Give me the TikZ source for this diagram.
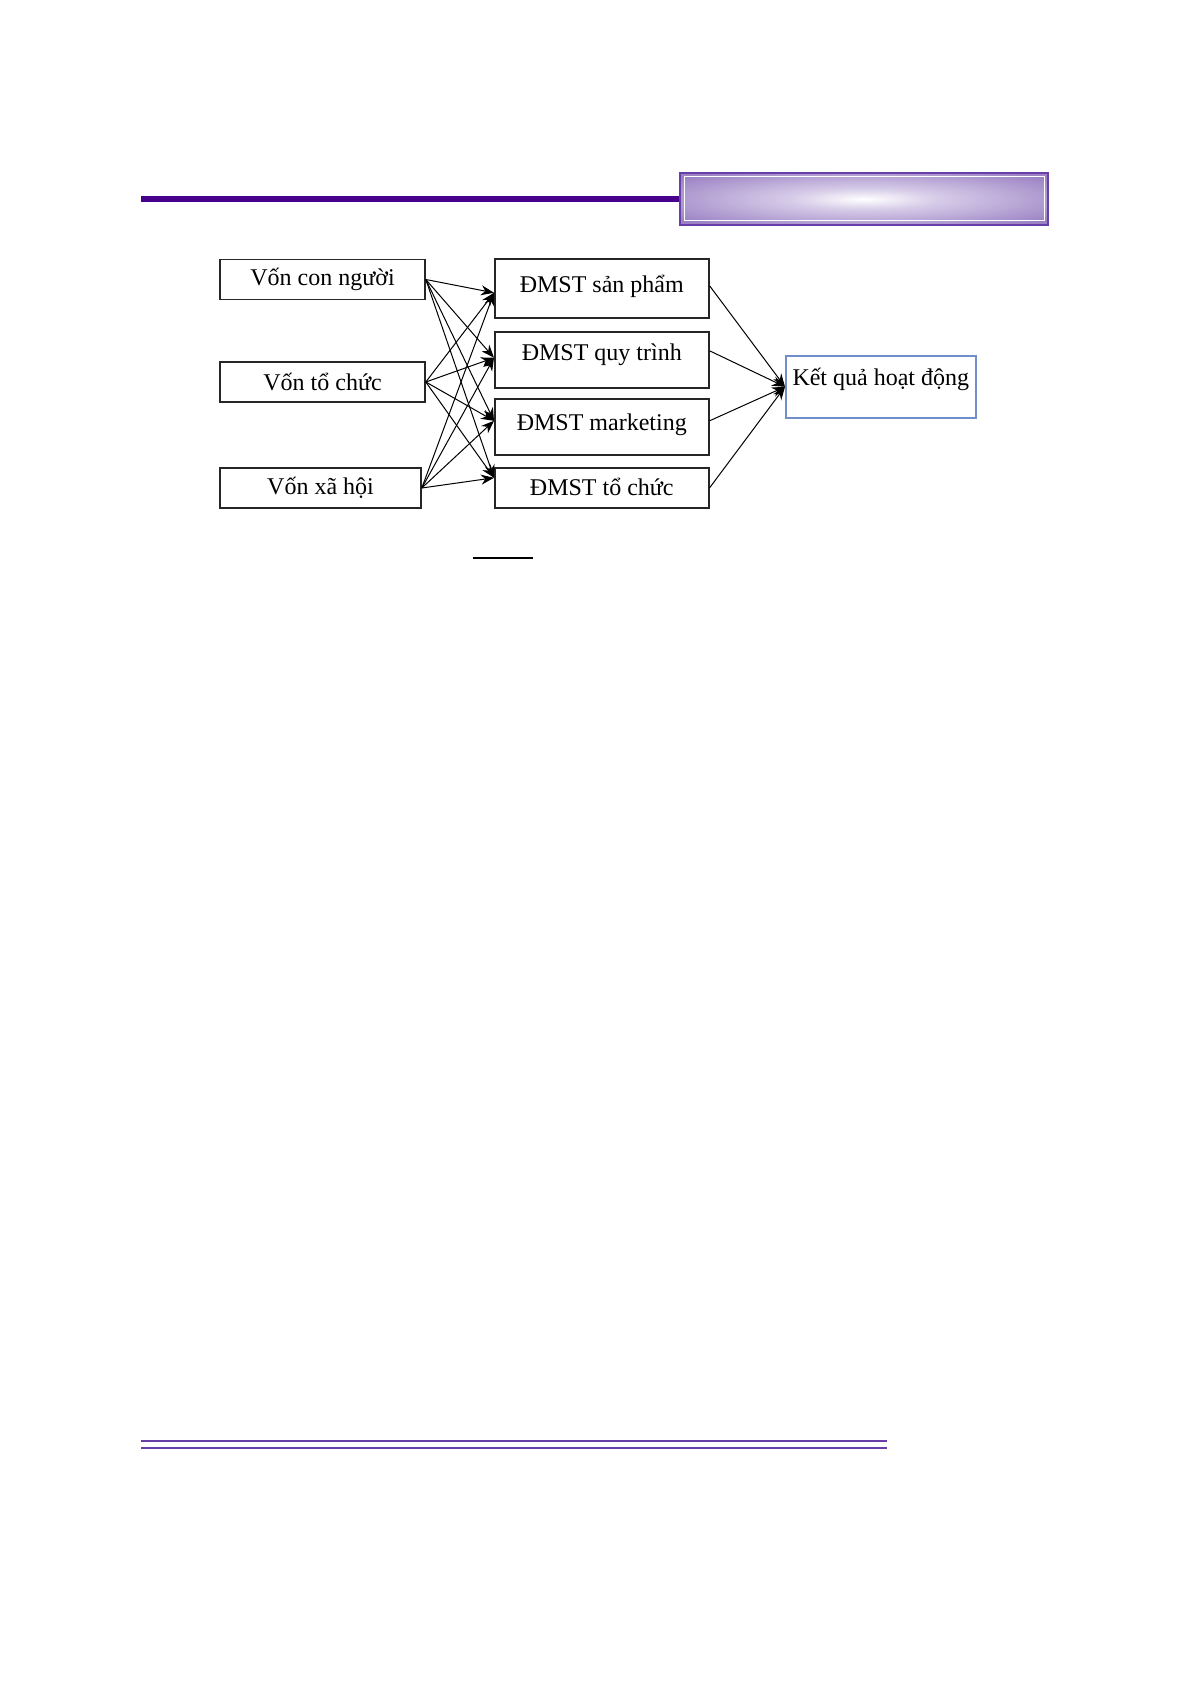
\documentclass[tikz,border=0pt]{standalone}
\usepackage{fontspec}
\setmainfont{Liberation Serif}
\usepackage{xcolor}
\usepackage{tikz}
\usetikzlibrary{arrows.meta}
\definecolor{hdrpurple}{RGB}{72,0,140}
\definecolor{hdredge}{RGB}{104,62,168}
\definecolor{boxlav}{RGB}{156,130,196}
\definecolor{glowmid}{RGB}{214,204,232}
\definecolor{kqblue}{RGB}{112,142,202}
\pgfdeclareradialshading{hdrglow}{\pgfpoint{0bp}{0bp}}{color(0bp)=(white); color(10bp)=(glowmid); color(32bp)=(boxlav); color(50bp)=(boxlav)}
\tikzstyle{box} = [draw=black!85,line width=1.6pt,inner sep=0pt,minimum width=205pt,minimum height=40pt,font=\fontsize{24}{28}\selectfont]
\tikzstyle{dmst} = [box,minimum width=214pt,anchor=north west]
\tikzstyle{arrow} = [line width=1pt,-{Stealth[length=13pt,width=10pt]}]

\begin{document}
\begin{tikzpicture}[x=1pt,y=-1pt]
\useasboundingbox (0,0) rectangle (1191,1685);
% header band
            \draw [hdrpurple,line width=6pt] (141,199) -- (681,199);
            \shade [shading=hdrglow] (680,173) rectangle (1048,225);
            \draw [hdredge,line width=2pt] (680,173) rectangle (1048,225);
            \draw [white,line width=1pt] (684,177) rectangle (1044,221);
% capital
            \node [box] (vcn) at (322.5,279.5) {Vốn con người};
            \node [box] (vtc) at (322.5,382) {Vốn tổ chức};
            \node [box,minimum width=201pt] (vxh) at (320.5,488) {Vốn xã hội};
% innovation
            \node [dmst,minimum height=59pt,text height=34pt,text depth=25pt] (sp) at (494,258) {ĐMST sản phẩm};
            \node [dmst,minimum height=56pt,text height=29pt,text depth=27pt] (qt) at (494,331) {ĐMST quy trình};
            \node [dmst,minimum height=56pt,text height=32pt,text depth=24pt] (mk) at (494,398) {ĐMST marketing};
            \node [dmst,minimum height=40pt,text height=28pt,text depth=12pt] (tc) at (494,467) {ĐMST tổ chức};
% performance
            \node [box,draw=kqblue,anchor=north west,minimum width=190pt,minimum height=62pt,text height=30pt,text depth=32pt] (kq) at (785,355) {Kết quả hoạt động};
            \foreach \src in {vcn,vtc,vxh} {
                \draw [arrow] (\src.east) -- ([yshift=-4.5pt]sp.west);
                \draw [arrow] (\src.east) -- ([yshift=2pt]qt.west);
                \draw [arrow] (\src.east) -- ([yshift=6pt]mk.west);
                \draw [arrow] (\src.east) -- ([yshift=10pt]tc.west);
            }
            \draw [arrow] ([yshift=2.5pt]sp.east) -- (kq.west);
            \draw [arrow] ([yshift=9pt]qt.east) -- (kq.west);
            \draw [arrow] ([yshift=6pt]mk.east) -- (kq.west);
            \draw [arrow] (tc.east) -- (kq.west);
% underline and footer rule
            \draw [line width=1.8pt] (473,558) -- (533,558);
            \draw [hdredge,line width=2.5pt] (141,1441) -- (887,1441);
            \draw [hdredge,line width=2.5pt] (141,1448) -- (887,1448);
\end{tikzpicture}
\end{document}
